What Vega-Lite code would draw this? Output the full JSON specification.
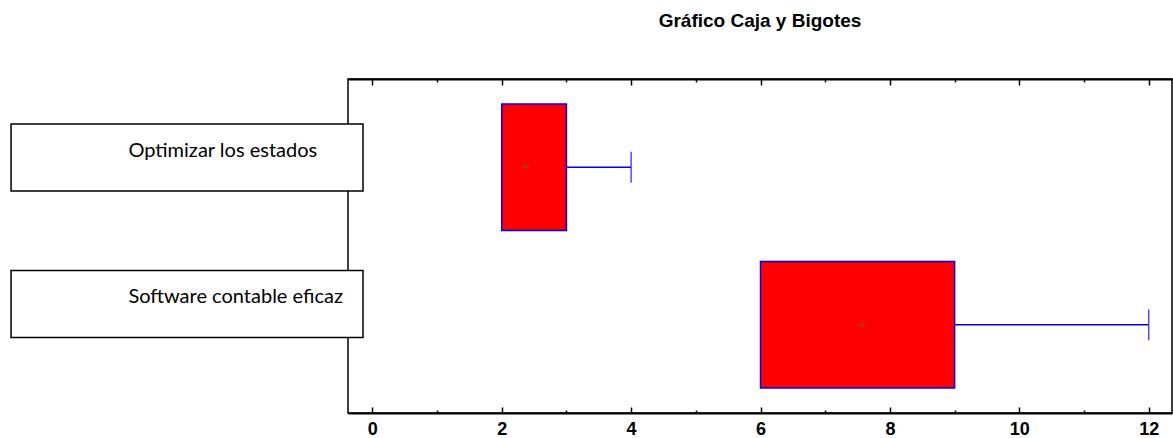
{
  "$schema": "https://vega.github.io/schema/vega-lite/v6.json",
  "width": 824,
  "height": 334,
  "autosize": "none",
  "padding": {"left": 348, "top": 79, "right": 1, "bottom": 25},
  "background": "white",
  "title": {
    "text": "Gráfico Caja y Bigotes",
    "font": "Liberation Sans",
    "fontSize": 19,
    "fontWeight": "bold",
    "color": "black",
    "anchor": "middle",
    "baseline": "alphabetic",
    "offset": 32
  },
  "config": {
    "view": {"stroke": "black", "strokeWidth": 1.5},
    "axis": {"grid": false}
  },
  "datasets": {
    "stats": [
      {"item": "Optimizar los estados", "min": 2, "q1": 2, "q3": 3, "max": 4, "mean": 2.37},
      {"item": "Software contable eficaz", "min": 6, "q1": 6, "q3": 9, "max": 12, "mean": 7.57}
    ],
    "labels": [
      {"label": "Optimizar los estados"},
      {"label": "Software contable eficaz"}
    ]
  },
  "layer": [
    {
      "data": {"name": "stats"},
      "encoding": {
        "y": {
          "field": "item", "type": "nominal", "axis": null, "sort": null,
          "scale": {"type": "band", "paddingInner": 0.198, "paddingOuter": 0.158}
        }
      },
      "layer": [
        {
          "mark": {"type": "rect", "fill": "#FF0000", "stroke": "#0000FF", "strokeWidth": 1.5},
          "encoding": {
            "x": {
              "field": "q1", "type": "quantitative",
              "scale": {"domain": [-0.376, 12.36], "nice": false, "zero": false},
              "axis": {
                "orient": "bottom",
                "values": [0,0.5,1,1.5,2,2.5,3,3.5,4,4.5,5,5.5,6,6.5,7,7.5,8,8.5,9,9.5,10,10.5,11,11.5,12],
                "labelExpr": "datum.value % 2 === 0 ? format(datum.value, 'd') : ''",
                "labelOverlap": false,
                "labelFont": "Liberation Sans",
                "labelFontSize": 18,
                "labelFontWeight": "bold",
                "labelColor": "black",
                "labelPadding": 13,
                "domainColor": "black",
                "domainWidth": 2,
                "tickColor": "black",
                "tickWidth": 1.5,
                "tickSize": {"condition": {"test": "datum.value % 2 === 0", "value": -6}, "value": -3},
                "title": null
              }
            },
            "x2": {"field": "q3"}
          }
        },
        {
          "mark": {"type": "rule", "color": "#0000FF", "strokeWidth": 1.5},
          "encoding": {
            "x": {"field": "q3", "type": "quantitative"},
            "x2": {"field": "max"}
          }
        },
        {
          "mark": {"type": "tick", "color": "#0000FF", "size": 31, "thickness": 1.5, "orient": "vertical"},
          "encoding": {
            "x": {"field": "max", "type": "quantitative"}
          }
        },
        {
          "mark": {"type": "point", "shape": "M-1,0H1M0,-1V1", "size": 40, "filled": false, "stroke": "#8B5A00", "strokeWidth": 1, "opacity": 1},
          "encoding": {
            "x": {"field": "mean", "type": "quantitative"}
          }
        }
      ]
    },
    {
      "data": {"name": "labels"},
      "encoding": {
        "y": {
          "field": "label", "type": "nominal", "axis": null, "sort": null,
          "scale": {"type": "band", "paddingInner": 0.543, "paddingOuter": 0.4114, "align": 0.374}
        }
      },
      "layer": [
        {
          "mark": {"type": "rect", "fill": "white", "stroke": "black", "strokeWidth": 1.5},
          "encoding": {
            "x": {
              "datum": -5.584, "type": "quantitative",
              "axis": {
                "orient": "top",
                "values": [0,0.5,1,1.5,2,2.5,3,3.5,4,4.5,5,5.5,6,6.5,7,7.5,8,8.5,9,9.5,10,10.5,11,11.5,12],
                "labels": false,
                "domainColor": "black",
                "domainWidth": 2,
                "tickColor": "black",
                "tickWidth": 1.5,
                "tickSize": {"condition": {"test": "datum.value % 2 === 0", "value": -6}, "value": -3},
                "title": null
              }
            },
            "x2": {"datum": -0.144}
          }
        },
        {
          "mark": {"type": "text", "align": "left", "baseline": "middle", "dy": -7, "font": "Lato", "fontSize": 20, "color": "black"},
          "encoding": {
            "x": {"datum": -3.77, "type": "quantitative"},
            "text": {"field": "label"}
          }
        }
      ]
    }
  ],
  "resolve": {"scale": {"y": "independent"}, "axis": {"x": "independent"}}
}
